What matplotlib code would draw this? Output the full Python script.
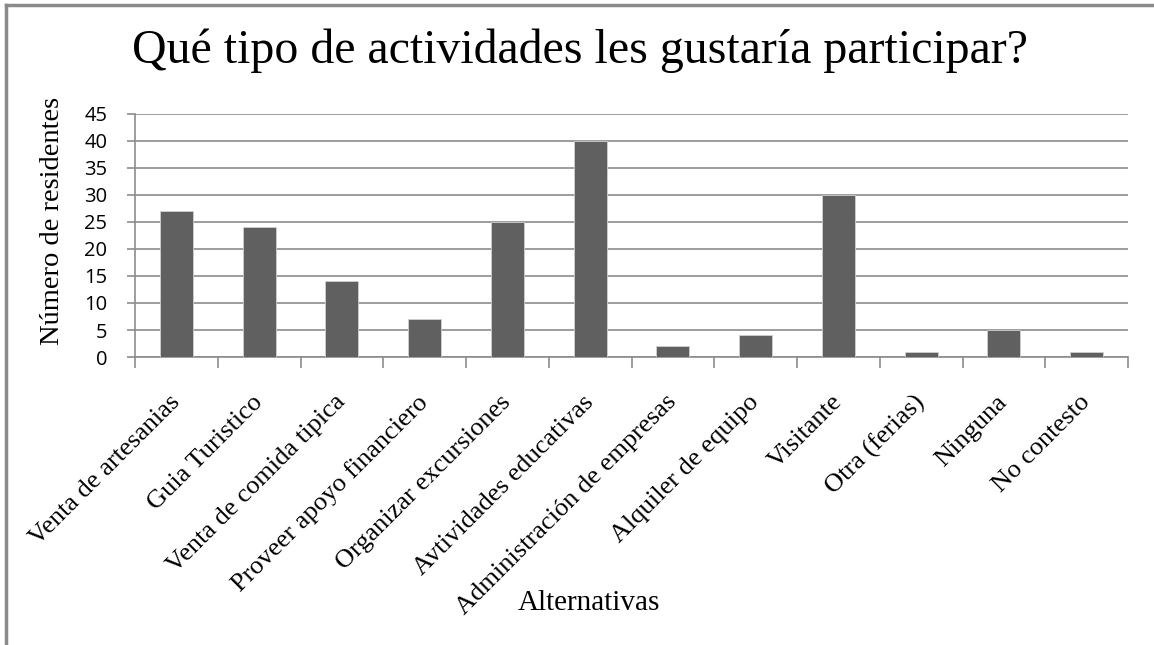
import matplotlib.pyplot as plt
import numpy as np
from matplotlib.lines import Line2D

categories = [
    'Venta de artesanias', 'Guia Turistico', 'Venta de comida tipica',
    'Proveer apoyo financiero', 'Organizar excursiones', 'Avtividades educativas',
    'Administración de empresas', 'Alquiler de equipo', 'Visitante',
    'Otra (ferias)', 'Ninguna', 'No contesto',
]
residentes = [27, 24, 14, 7, 25, 40, 2, 4, 30, 1, 5, 1]
y_ticks = list(range(0, 50, 5))

SERIF = ['Liberation Serif', 'DejaVu Serif']
SANS = ['Open Sans', 'Liberation Sans', 'DejaVu Sans']
GRID = '#8c8c8c'

fig = plt.figure(figsize=(11.54, 6.45), dpi=100)
ax = fig.add_axes([0.117, 0.4465, 0.8605, 0.3768])

x = np.arange(len(categories))
ax.bar(x, residentes, width=0.4, color='#606060', edgecolor='#d0d0d0',
       linewidth=0.6, zorder=3)

ax.set_xlim(-0.5, len(categories) - 0.5)
ax.set_ylim(0, 45)
ax.set_yticks(y_ticks)
ax.set_yticklabels([str(v) for v in y_ticks], family=SANS, fontsize=14.5)
ax.yaxis.grid(True, color=GRID, linewidth=1.2, zorder=0)
ax.tick_params(axis='y', length=6, color=GRID, width=1.2, pad=14)

ax.set_xticks(x)
ax.set_xticklabels(categories, family=SERIF, fontsize=19, rotation=45,
                   ha='right', va='center', rotation_mode='anchor')
ax.tick_params(axis='x', which='major', length=0, pad=30)
ax.set_xticks(np.arange(-0.5, len(categories), 1), minor=True)
ax.tick_params(axis='x', which='minor', length=8, color=GRID, width=1.2)

for side in ['top', 'right']:
    ax.spines[side].set_visible(False)
for side in ['left', 'bottom']:
    ax.spines[side].set_color(GRID)
    ax.spines[side].set_linewidth(1.2)

ax.set_ylabel('Número de residentes', family=SERIF, fontsize=20.5)
ax.yaxis.set_label_coords(-0.0705, 0.56)
fig.text(0.51, 0.0543, 'Alternativas', family=SERIF, fontsize=21,
         ha='center', va='baseline')
fig.text(0.503, 0.902, 'Qué tipo de actividades les gustaría participar?',
         family=SERIF, fontsize=34.5, ha='center', va='baseline')

# outer frame of the chart
fig.add_artist(Line2D([0.0052, 0.0052], [0, 0.992], color='#8a8a8a', linewidth=2.5,
                      transform=fig.transFigure))
fig.add_artist(Line2D([0.0052, 1], [0.992, 0.992], color='#8a8a8a', linewidth=2.5,
                      transform=fig.transFigure))

fig.savefig('out.png', dpi=100)
